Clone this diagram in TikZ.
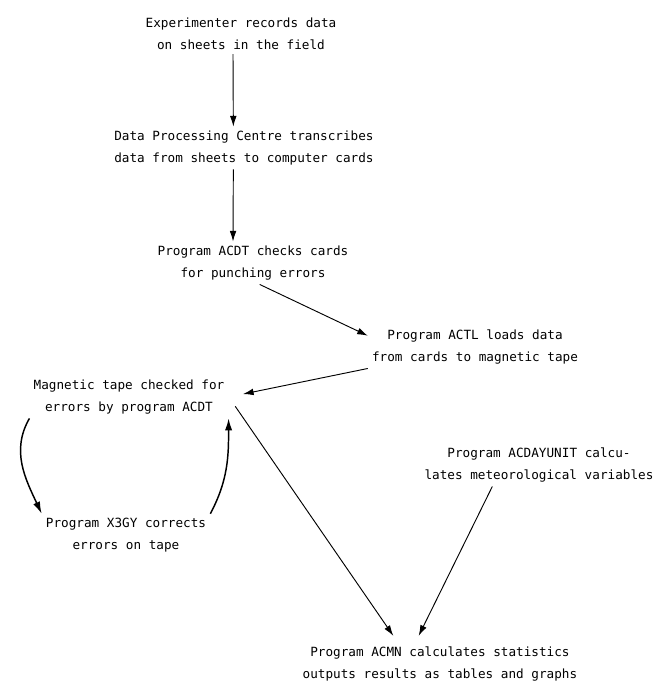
\documentclass[tikz,border=0pt]{standalone}
\usepackage{fontspec}
\setmonofont{DejaVu Sans Mono}
\usetikzlibrary{arrows.meta}
\begin{document}
\begin{tikzpicture}[x=0.75pt,y=-0.75pt,
  stage/.style={align=center,inner sep=3pt,font=\fontsize{9.5}{16.5}\selectfont\ttfamily},
  flow/.style={-{Latex[length=8pt,width=5pt]},line width=0.7pt},
  loop/.style={-{Latex[length=9pt,width=5.5pt]},line width=1.1pt}]
\useasboundingbox (0,0) rectangle (657,681);
%
\node[stage] (exp) at (241,34) {Experimenter records data\\on sheets in the field};
\node[stage] (dpc) at (244,148) {Data Processing Centre transcribes\\data from sheets to computer cards};
\node[stage] (acdt) at (253,263) {Program ACDT checks cards\\for punching errors};
\node[stage] (actl) at (475,347) {Program ACTL loads data\\from cards to magnetic tape};
\node[stage] (mag) at (129,397) {Magnetic tape checked for\\errors by program ACDT};
\node[stage] (x3gy) at (126,535) {Program X3GY corrects\\errors on tape};
\node[stage] (acday) at (539,465) {Program ACDAYUNIT calcu-\\lates meteorological variables};
\node[stage] (acmn) at (440,664) {Program ACMN calculates statistics\\outputs results as tables and graphs};
%
\draw[flow] ([xshift=-6pt]exp.south) -- ([xshift=-8pt]dpc.north);
\draw[flow] ([xshift=-8pt]dpc.south) -- ([xshift=-15pt]acdt.north);
\draw[flow] ([xshift=5pt]acdt.south) -- (actl.174);
\draw[flow,shorten >=11pt] (actl.south west) -- (mag.east);
%===========================
\draw[loop] (mag.south west) to[out=240,in=115] (x3gy.north west);
\draw[loop] (x3gy.north east) to[out=62,in=270] (mag.south east);
%===========================
\draw[flow] ([shift={(5pt,-7pt)}]mag.east) -- ([shift={(-35pt,5pt)}]acmn.north);
\draw[flow] ([xshift=-35pt]acday.south) -- ([shift={(-16pt,5pt)}]acmn.north);
\end{tikzpicture}
\end{document}
